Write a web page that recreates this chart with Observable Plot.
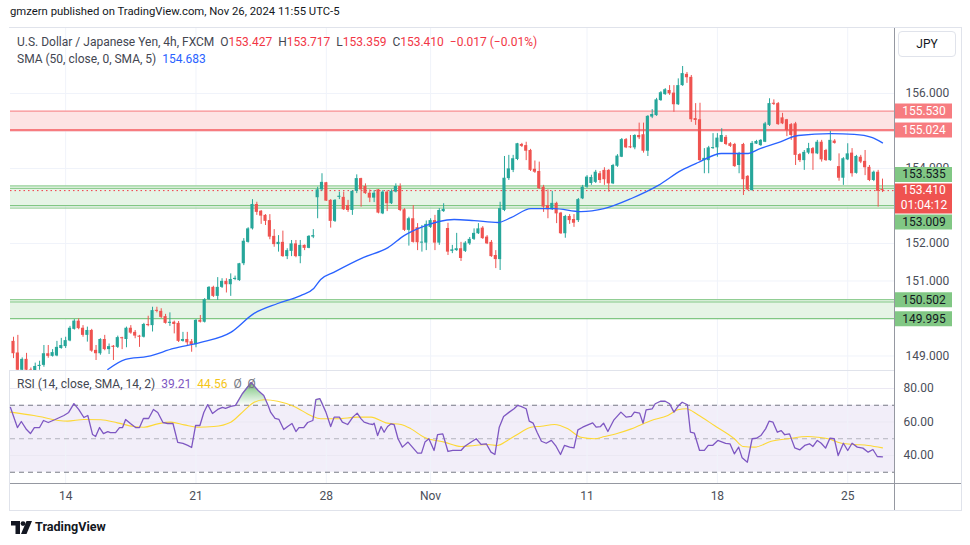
<!DOCTYPE html>
<html><head><meta charset="utf-8">
<script src="https://cdn.jsdelivr.net/npm/d3@7"></script>
<script src="https://cdn.jsdelivr.net/npm/@observablehq/plot@0.6"></script>
<style>
body{margin:0;background:#fff;font-family:Roboto,"Noto Sans",sans-serif;}
#root{position:relative;width:970px;height:545px;overflow:hidden;background:#fff;}
.abs{position:absolute;}
.leg{position:absolute;font-size:12px;color:#434651;white-space:pre;line-height:16px;}
</style></head><body><div id="root">
<div class="abs" style="left:10px;top:5px;font-size:11.3px;color:#131722;">gmzern published on TradingView.com, Nov 26, 2024 11:55 UTC-5</div>
<div class="abs" style="left:9px;top:27px;width:951px;height:482px;border:1px solid #e0e3eb;"></div>
<div id="main" class="abs" style="left:0;top:28px;"></div>
<div id="col" class="abs" style="left:894px;top:28px;"></div>
<div id="rsi" class="abs" style="left:0;top:370px;"></div>
<div class="abs" style="left:10px;top:370px;width:884px;height:1px;background:#e0e3eb;"></div>
<div class="abs" style="left:10px;top:483px;width:951px;height:1px;background:#9598a1;"></div>
<div class="abs" style="left:894px;top:28px;width:1px;height:482px;background:#9598a1;"></div>
<div class="abs" style="left:898px;top:31px;width:56px;height:24px;border:1px solid #e0e3eb;border-radius:4px;background:#fff;font-size:12px;color:#131722;text-align:center;line-height:24px;">JPY</div>
<div id="leg1" class="leg" style="left:17px;top:34px;"></div>
<div id="leg2" class="leg" style="left:17px;top:51px;"></div>
<div id="leg3" class="leg" style="left:17px;top:376px;"></div>
<div class="abs" style="left:11px;top:520px;"><svg width="22" height="14"><path d="M0 0h9v13h-4.5v-8.5h-4.5z" fill="#131722"/><circle cx="12" cy="2.6" r="2.4" fill="#131722"/><path d="M15.5 0h5.5l-5.5 13h-5.5z" fill="#131722"/></svg></div>
<div class="abs" style="left:35px;top:519px;font-size:12.6px;font-weight:bold;color:#131722;">TradingView</div>
</div>
<script>
// ---- price data (4h candles, index = bar number) ----
const opens = [149.39,149.08,148.62,148.91,148.62,148.60,148.72,148.75,149.06,148.99,149.00,149.20,149.25,149.40,149.71,149.93,149.74,149.55,149.68,149.15,
149.06,149.44,149.17,149.26,149.23,149.48,149.44,149.74,149.63,149.53,149.50,149.84,149.81,150.21,150.19,150.05,149.87,149.90,149.87,149.39,
149.44,149.38,149.30,149.95,149.90,150.50,150.83,150.59,150.83,150.99,150.90,151.04,151.01,151.46,152.03,152.39,153.04,152.86,152.75,152.61,
152.19,151.97,152.03,151.65,151.79,151.99,151.65,151.95,151.87,152.17,153.22,153.43,153.62,153.15,152.59,153.23,153.23,153.01,152.88,153.39,
153.73,153.52,153.34,153.21,153.43,152.79,153.37,153.06,153.37,153.52,152.90,152.35,152.66,152.42,152.01,152.01,152.43,152.61,152.01,152.85,
152.40,151.79,151.81,151.86,151.79,151.99,152.11,152.26,152.41,152.17,152.03,151.68,151.57,152.88,153.73,153.95,154.24,154.64,154.61,154.48,
153.98,153.92,153.50,153.01,152.90,153.07,152.81,152.26,152.72,152.64,152.61,153.19,153.50,153.60,153.63,153.86,153.95,153.95,153.59,154.06,
154.30,154.77,154.58,154.55,154.88,154.90,154.46,155.37,155.41,155.81,155.97,156.08,156.01,155.70,156.21,156.51,156.43,155.33,155.30,154.21,
154.21,154.53,154.55,154.70,154.83,154.66,154.64,154.08,154.64,153.79,153.41,154.65,154.61,154.70,155.15,155.74,155.73,155.35,155.30,155.17,
155.19,154.37,154.21,154.41,154.53,154.39,154.70,154.48,154.21,154.73,154.05,153.74,154.23,154.41,153.87,154.30,154.19,154.03,153.68,153.90,
153.427];
const highs = [149.50,149.55,148.95,149.07,148.68,148.81,148.86,149.28,149.28,149.17,149.39,149.47,149.50,149.79,149.97,149.99,149.81,149.77,149.71,149.28,
149.46,149.55,149.32,149.28,149.53,149.50,149.77,149.81,149.68,149.55,149.87,150.06,150.30,150.30,150.26,150.11,150.15,149.93,149.92,149.63,
149.63,149.44,149.97,150.08,150.53,150.85,150.86,151.09,151.06,151.06,151.19,151.13,151.47,152.13,152.42,153.17,153.10,152.88,152.77,152.77,
152.37,152.21,152.33,151.86,152.08,152.08,152.08,151.96,152.21,152.37,153.50,153.86,153.63,153.17,153.17,153.37,153.37,153.15,153.41,153.83,
153.74,153.59,153.43,153.41,153.44,153.41,153.41,153.43,153.59,153.59,152.93,152.70,153.01,152.53,152.48,152.60,152.66,152.75,152.93,153.06,
152.54,151.95,152.27,152.03,152.05,152.16,152.39,152.53,152.45,152.21,152.08,151.81,153.10,154.32,154.35,154.35,154.67,154.67,154.70,154.51,
154.20,154.17,153.55,153.43,153.39,153.10,152.83,152.75,152.77,152.77,153.20,153.55,153.81,153.82,153.95,153.92,154.02,153.97,154.11,154.37,
154.80,154.80,154.88,154.90,155.21,155.21,155.41,155.57,155.87,156.05,156.13,156.21,156.21,156.39,156.72,156.56,156.48,155.73,155.74,154.53,
154.59,154.93,154.93,155.06,154.88,154.69,154.67,154.43,154.67,153.81,154.72,154.75,154.77,155.23,155.86,155.83,155.76,155.47,155.31,155.20,
155.23,154.40,154.48,154.67,154.56,154.75,154.75,154.51,154.99,154.77,154.39,154.29,154.66,154.53,154.35,154.35,154.48,154.08,153.93,153.95,
153.717];
const lows = [148.93,148.55,148.55,148.55,148.53,148.55,148.62,148.70,148.94,148.97,148.98,149.18,149.20,149.38,149.69,149.70,149.50,149.37,149.10,148.88,
149.02,149.14,149.04,148.88,149.20,149.17,149.22,149.58,149.46,149.23,149.48,149.78,149.64,150.15,150.00,149.85,149.79,149.59,149.36,149.37,
149.26,149.10,149.22,149.88,149.88,150.48,150.56,150.48,150.80,150.68,150.59,151.01,150.99,151.41,152.01,152.36,152.75,152.51,152.48,152.10,
151.90,151.77,151.63,151.57,151.65,151.62,151.46,151.81,151.86,152.13,152.66,153.39,153.12,152.41,152.56,153.17,152.88,152.83,152.75,153.33,
152.97,153.31,153.09,153.09,152.79,152.77,152.85,153.04,153.35,152.85,152.32,151.93,152.01,151.81,151.77,151.81,152.40,151.81,151.95,152.83,
151.68,151.73,151.79,151.52,151.76,151.95,152.08,152.24,152.11,151.97,151.63,151.33,151.28,152.85,153.68,153.89,154.21,154.56,154.21,153.92,
153.87,153.44,152.83,152.66,152.88,152.53,152.24,152.14,152.51,152.43,152.56,153.17,153.47,153.55,153.60,153.60,153.55,153.37,153.57,154.03,
154.29,154.53,154.53,154.50,154.77,154.41,154.32,155.33,155.39,155.79,155.95,155.95,155.50,155.68,156.19,156.27,155.23,155.15,154.19,153.86,
153.86,154.51,154.30,154.69,154.61,154.56,154.03,153.86,153.28,153.41,153.40,154.64,154.59,154.69,155.12,155.68,155.15,155.17,154.85,154.75,
154.08,154.16,153.95,154.37,153.95,154.37,154.17,154.19,154.19,154.65,153.66,153.55,154.21,153.77,153.85,154.13,153.81,153.65,153.65,152.97,
153.359];
const closes = [149.06,148.62,148.91,148.62,148.60,148.72,148.75,149.06,148.99,149.09,149.23,149.28,149.41,149.74,149.93,149.73,149.55,149.68,149.13,149.06,
149.44,149.17,149.25,149.23,149.49,149.46,149.74,149.61,149.53,149.50,149.84,149.81,150.21,150.19,150.03,149.87,149.90,149.84,149.39,149.44,
149.35,149.30,149.95,149.90,150.50,150.83,150.59,150.83,150.99,150.90,151.04,151.07,151.46,152.06,152.39,153.04,152.83,152.73,152.59,152.17,
151.97,152.03,151.65,151.81,151.99,151.65,151.95,151.87,152.19,152.21,153.43,153.63,153.13,152.59,153.15,153.26,152.90,152.88,153.39,153.73,
153.43,153.33,153.21,153.34,152.81,153.37,153.06,153.39,153.52,152.88,152.35,152.66,152.03,152.02,152.03,152.51,152.61,152.01,152.88,152.91,
151.77,151.83,151.86,151.60,152.01,152.11,152.27,152.39,152.13,151.99,151.65,151.57,152.93,153.74,153.99,154.26,154.66,154.59,154.46,153.95,
153.90,153.46,152.97,152.90,153.07,152.79,152.26,152.72,152.61,152.54,153.17,153.50,153.77,153.76,153.90,153.68,153.70,153.59,154.08,154.33,
154.77,154.55,154.55,154.88,154.82,154.46,155.39,155.44,155.83,156.02,156.10,155.99,155.70,156.21,156.53,156.42,155.30,155.28,154.21,154.27,
154.55,154.55,154.81,154.88,154.64,154.59,154.05,154.39,153.70,153.43,154.67,154.72,154.75,155.19,155.73,155.71,155.17,155.19,155.01,154.88,
154.35,154.21,154.43,154.53,154.39,154.70,154.23,154.21,154.75,154.67,153.74,154.26,154.39,153.86,154.32,154.17,154.02,153.68,153.90,153.39,
153.410];

// SMA(50) read at bar positions
const smaBars = [21.7,25.8,30.9,36.9,43.1,50.0,55.3,60.8,66.1,69.1,70.7,73.7,80.6,86.2,89.9,93.8,101.4,106.0,111.5,114.5,119.1,124.4,130.6,135.9,142.2,148.4,153.7,157.6,162.9,169.1,171.4,176.0,180.6,188.2,193.5,197.5,200];
const smaVals = [148.64,148.91,148.99,149.20,149.36,149.63,150.13,150.40,150.61,150.80,151.04,151.23,151.63,151.89,152.21,152.43,152.64,152.61,152.56,152.69,152.93,152.93,152.85,152.93,153.20,153.55,153.95,154.16,154.40,154.40,154.51,154.69,154.88,154.93,154.91,154.83,154.683];

// RSI(14)
const rsiBars = [-0.7,0.9,1.8,3.0,3.9,4.8,6.0,6.9,8.0,9.6,11.6,12.7,13.9,15.0,16.2,17.1,18.2,18.9,19.8,20.7,21.7,22.3,23.5,24.4,25.1,25.8,26.9,28.1,29.0,29.9,31.1,32.2,33.2,34.4,35.5,36.7,37.8,39.0,40.1,41.0,41.9,42.9,43.8,44.7,45.8,47.0,48.1,48.8,50.0,51.1,52.7,54.7,56.3,57.6,58.6,59.2,60.2,61.1,62.2,63.1,64.1,65.0,65.7,66.8,67.7,68.9,69.6,70.5,71.9,73.0,73.8,75.0,75.7,76.9,78.1,79.1,80.0,80.7,81.9,82.7,83.0,83.8,84.6,85.3,86.1,86.9,87.6,88.5,89.5,90.8,91.8,93.0,93.9,94.7,95.6,96.8,97.6,98.8,100.0,101.1,102.3,103.0,103.8,104.9,106.5,107.6,108.8,109.9,110.8,111.8,112.8,114.1,115.2,116.0,116.8,118.0,118.7,119.6,120.5,121.5,122.6,123.8,124.9,125.9,126.8,128.0,129.0,129.9,131.0,132.2,133.3,134.1,135.1,135.8,136.8,138.2,139.8,141.0,142.2,142.9,144.1,144.9,145.6,147.0,147.7,148.9,150.0,151.0,152.0,153.1,153.9,155.1,155.8,156.7,157.9,159.0,159.9,160.9,162.1,163.9,164.9,165.9,166.9,167.7,168.9,170.0,171.0,172.0,173.1,173.9,174.8,175.8,176.7,177.5,178.6,179.8,181.0,182.1,183.2,184.0,185.0,185.9,186.9,187.9,188.9,189.8,191.0,192.0,193.0,194.2,195.5,196.7,197.8,198.8,200.0];
const rsiVals = [68.7,56.7,60.3,55.5,53.1,56.7,56.7,60.9,59.7,61.5,63.9,65.7,71,67.5,62.7,63.9,52.5,51.3,56.7,53.1,54.3,53.7,53.7,56.7,56.7,61.5,59.1,56.7,56.7,62.1,62.1,67.5,65.7,59.7,59.1,59.1,47.8,47.2,46,44.8,57.9,57.9,65.7,70.4,65.1,67.5,68.7,68.1,69.3,69.9,77,83.6,78.8,75.8,69.9,65.7,62.1,61.5,55.5,57.3,59.1,54.3,56.7,56.7,59.7,60.9,73.4,74,65.9,57.3,62.9,62.9,59.9,58.5,62.9,65.3,61.9,59.9,58.9,58.5,59.3,51.9,57.3,53.9,57.3,58.9,58.5,50,45,48,45,41.4,41.4,48,50,43,52.5,52.9,42.4,43,43,43,45.4,47.3,50,46.6,47,42,40.6,56.9,63.3,65.9,67.9,69.9,69.3,67.9,60.5,59.3,53.9,48.5,47.3,49,45.4,40.6,46,45,44.6,55.3,56.9,58.3,59.5,56.9,57.3,59.3,54.3,61.3,65.9,62.9,63.3,65.9,65.3,59.3,67.3,67.9,70.9,72.4,72.4,70.9,65.9,69.9,71.8,70.3,53.9,53.3,43,43,46,46,49,47.3,47,41,45,38.6,36,50,50.3,51.9,55.9,60.5,59.9,53.9,54.9,52.4,52.9,44.6,43.4,46,47,45.4,49,47.3,44.4,50.3,50,40,47.3,43,47.3,45,44.4,42,43.6,39.4,39.21];
// RSI-based MA(14)
const maBars = [-0.7,4.7,12.4,16.2,20.1,23.9,27.7,30.0,33.2,36.2,39.3,42.3,46.1,50.0,52.3,55.4,57.7,60.8,64.6,68.4,70.7,74.5,79.2,82.3,85.7,89.2,91.5,94.5,99.2,103.0,106.1,109.1,111.4,113.7,116.8,119.1,121.5,124.5,127.6,130.6,133.7,136.0,139.1,142.2,146.8,150.6,152.9,154.8,157.5,161.3,165.9,167.9,170.6,174.4,178.3,182.8,185.1,187.5,190.6,193.6,196.7,200.0];
const maVals = [65.9,63.9,60.5,61.5,61.3,59.5,57.3,56.9,58.9,59.9,58.3,56.9,57.3,59.9,64.9,71.8,73.3,72.4,69.3,63.9,61.9,61.9,62.9,62.9,59.5,58.5,55.9,50.9,48,45.4,46,46.6,46,49,53.9,56.9,57.5,58.5,55.9,50.9,50,51.3,53.3,55.9,60.9,63.9,67.3,67.9,64.3,57.9,50,45.4,45,48.5,50,51.3,50.9,50,47.3,46.6,46,44.56];

// zones and labels
const zoneLo = [155.024, 153.009, 149.995];
const zoneHi = [155.530, 153.535, 150.502];
const zoneKind = ["res", "sup", "sup"];
const extraZoneLines = [153.47, 152.945, 150.44];
const lastPrice = 153.410;
const countdown = "01:04:12";
const gridPrices = [149,150,151,152,153,154,155,156];
const priceTickLabels = [149,151,152,154,156];
const rsiTicks = [40,60,80];
const rsiBands = [30,50,70];
const dateTickBars = [12,42,72,96,132,162,192];
const dateTickLabels = ["14","21","28","Nov","11","18","25"];

// ---- build ----
const UP = "#26a69a", DOWN = "#ef5350";
const GREEN_LINE = "#81c784";
const xDomain = [-0.691, 202.765];
const yDomain = [148.613, 157.733];
const rsiDomain = [23.28, 90.75];
const candles = opens.map((o, i) => {
  const c = closes[i];
  let top = Math.max(o, c), bot = Math.min(o, c);
  if (top - bot < 0.027) top = bot + 0.027;
  return {i, o, h: highs[i], l: lows[i], c, top, bot, up: c >= o};
});
const ups = candles.filter(d => d.up), downs = candles.filter(d => !d.up);
const sma = smaBars.map((b, k) => ({b, v: smaVals[k]}));
const rsi = rsiBars.map((b, k) => ({b, v: rsiVals[k]}));
const rsiMa = maBars.map((b, k) => ({b, v: maVals[k]}));
const zones = zoneLo.map((lo, k) => ({lo, hi: zoneHi[k], kind: zoneKind[k]}));
const zoneLines = [
  ...zones.flatMap(z => [{v: z.hi, kind: z.kind, w: 1}, {v: z.lo, kind: z.kind, w: z.kind === "res" ? 2.2 : 1.2}]),
  ...extraZoneLines.map(v => ({v, kind: "sup", w: 1}))
];
const fmt3 = d3.format(".3f");
const font = "Roboto, 'Noto Sans', sans-serif";

const main = Plot.plot({
  width: 960, height: 342,
  marginLeft: 10, marginRight: 66, marginTop: 0, marginBottom: 0,
  style: {fontFamily: font, fontSize: "12px", background: "white", overflow: "visible"},
  x: {domain: xDomain, axis: null},
  y: {domain: yDomain, axis: null},
  marks: [
    Plot.ruleY(gridPrices, {stroke: "#f0f3fa"}),
    Plot.ruleX(dateTickBars, {stroke: "#f0f3fa"}),
    Plot.rect(zones, {y1: "lo", y2: "hi", fill: d => d.kind === "res" ? "#fde3e4" : "#e6f4e6"}),
    Plot.ruleY(zoneLines.filter(d => d.kind === "sup"), {y: "v", stroke: GREEN_LINE, strokeWidth: d => d.w}),
    Plot.ruleY(zoneLines.filter(d => d.kind === "res"), {y: "v", stroke: "#f77c80", strokeWidth: d => d.w}),
    Plot.ruleY([lastPrice], {stroke: "#f23645", strokeDasharray: "1.5,3", strokeWidth: 1}),
    Plot.ruleX(ups, {x: "i", y1: "l", y2: "h", stroke: UP, strokeWidth: 1, clip: true}),
    Plot.ruleX(downs, {x: "i", y1: "l", y2: "h", stroke: DOWN, strokeWidth: 1, clip: true}),
    Plot.rect(ups, {x1: d => d.i - 0.36, x2: d => d.i + 0.36, y1: "bot", y2: "top", fill: UP, clip: true}),
    Plot.rect(downs, {x1: d => d.i - 0.36, x2: d => d.i + 0.36, y1: "bot", y2: "top", fill: DOWN, clip: true}),
    Plot.line(sma, {x: "b", y: "v", stroke: "#2962ff", strokeWidth: 1.3, curve: "monotone-x", clip: true}),
    Plot.axisY({anchor: "right", ticks: priceTickLabels, tickSize: 0, tickPadding: 11, tickFormat: fmt3, fill: "#4a4e59", fontSize: 12, label: null})
  ]
});
document.getElementById("main").appendChild(main);

// price-scale badges (overlay column)
const badges = [
  {v: zoneHi[0], text: fmt3(zoneHi[0]), bg: "#f77c80", fg: "#fff", dy: 0, h: 15},
  {v: zoneLo[0], text: fmt3(zoneLo[0]), bg: "#f77c80", fg: "#fff", dy: 0, h: 15},
  {v: zoneHi[1], text: fmt3(zoneHi[1]), bg: "#81c784", fg: "#131722", dy: -11.5, h: 15},
  {v: lastPrice, text: fmt3(lastPrice), bg: "#ef5350", fg: "#fff", dy: 0, h: 30, sub: countdown},
  {v: zoneLo[1], text: fmt3(zoneLo[1]), bg: "#81c784", fg: "#131722", dy: 16.3, h: 15},
  {v: zoneHi[2], text: fmt3(zoneHi[2]), bg: "#81c784", fg: "#131722", dy: 0, h: 15},
  {v: zoneLo[2], text: fmt3(zoneLo[2]), bg: "#81c784", fg: "#131722", dy: 0, h: 15}
];
const colMarks = [];
for (const b of badges) {
  const boxDy = b.sub ? b.dy + 8 : b.dy;
  colMarks.push(Plot.ruleY([b.v], {y: d => d, stroke: b.bg, strokeWidth: b.h, insetLeft: 1, insetRight: 8, dy: boxDy}));
  colMarks.push(Plot.text([b.v], {y: d => d, text: () => b.text, fill: b.fg, frameAnchor: "middle", dx: -3.5, dy: b.dy, fontSize: 12}));
  if (b.sub) colMarks.push(Plot.text([b.v], {y: d => d, text: () => b.sub, fill: b.fg, frameAnchor: "middle", dx: -3.5, dy: b.dy + 15, fontSize: 12}));
}
const col = Plot.plot({
  width: 66, height: 342, margin: 0,
  style: {fontFamily: font, fontSize: "12px", background: "transparent", overflow: "visible"},
  y: {domain: yDomain, axis: null},
  marks: colMarks
});
document.getElementById("col").appendChild(col);

// gradient for the overbought fill (defs only)
const obGradient = (index, scales) => {
  const ns = "http://www.w3.org/2000/svg";
  const defs = document.createElementNS(ns, "defs");
  const g = document.createElementNS(ns, "linearGradient");
  g.setAttribute("id", "obGrad");
  g.setAttribute("gradientUnits", "userSpaceOnUse");
  g.setAttribute("x1", "0"); g.setAttribute("x2", "0");
  g.setAttribute("y1", String(scales.y(rsiBands[2])));
  g.setAttribute("y2", String(scales.y(83)));
  for (const [off, op] of [["0", "0.02"], ["1", "0.75"]]) {
    const s = document.createElementNS(ns, "stop");
    s.setAttribute("offset", off);
    s.setAttribute("stop-color", "#4caf50");
    s.setAttribute("stop-opacity", op);
    g.appendChild(s);
  }
  defs.appendChild(g);
  return defs;
};

// RSI pane + time axis
const rsiPlot = Plot.plot({
  width: 960, height: 140,
  marginLeft: 10, marginRight: 66, marginTop: 0, marginBottom: 27,
  style: {fontFamily: font, fontSize: "12px", background: "transparent", overflow: "visible"},
  x: {domain: xDomain, axis: null},
  y: {domain: rsiDomain, axis: null},
  marks: [
    obGradient,
    Plot.rect([{lo: rsiBands[0], hi: rsiBands[2]}], {y1: "lo", y2: "hi", fill: "#7e57c2", fillOpacity: 0.1}),
    Plot.ruleY(rsiTicks, {stroke: "#ebe8f3"}),
    Plot.ruleX(dateTickBars, {stroke: "#f0f3fa"}),
    Plot.ruleY([rsiBands[0], rsiBands[2]], {stroke: "#787b86", strokeDasharray: "5,4"}),
    Plot.ruleY([rsiBands[1]], {stroke: "#787b86", strokeOpacity: 0.5, strokeDasharray: "5,4"}),
    Plot.areaY(rsi, {x: "b", y1: rsiBands[2], y2: d => Math.max(d.v, rsiBands[2]), fill: "url(#obGrad)"}),
    Plot.line(rsiMa, {x: "b", y: "v", stroke: "#fdd835", strokeWidth: 1.1, curve: "monotone-x"}),
    Plot.line(rsi, {x: "b", y: "v", stroke: "#7e57c2", strokeWidth: 1.3}),
    Plot.axisY({anchor: "right", ticks: rsiTicks, tickSize: 0, tickPadding: 9, tickFormat: d3.format(".2f"), fill: "#4a4e59", fontSize: 12, label: null}),
    Plot.axisX({anchor: "bottom", ticks: dateTickBars, tickSize: 0, tickPadding: 8, tickFormat: (d) => dateTickLabels[dateTickBars.indexOf(d)], fill: "#4a4e59", fontSize: 12, label: null})
  ]
});
document.getElementById("rsi").appendChild(rsiPlot);

// legends
const c = closes[closes.length - 1], o = opens[opens.length - 1];
const span = (t, col) => `<span style="color:${col}">${t}</span>`;
const RED = "#f23645";
document.getElementById("leg1").innerHTML =
  span("U.S. Dollar / Japanese Yen, 4h, FXCM  ", "#434651") +
  span("O", "#434651") + span(fmt3(o), RED) + "  " +
  span("H", "#434651") + span(fmt3(highs[highs.length-1]), RED) + "  " +
  span("L", "#434651") + span(fmt3(lows[lows.length-1]), RED) + "  " +
  span("C", "#434651") + span(fmt3(c), RED) + "  " +
  span("\u22120.017 (\u22120.01%)", RED);
document.getElementById("leg2").innerHTML =
  span("SMA (50, close, 0, SMA, 5)  ", "#434651") + span(fmt3(smaVals[smaVals.length-1]), "#2962ff");
document.getElementById("leg3").innerHTML =
  span("RSI (14, close, SMA, 14, 2)  ", "#434651") + span(rsiVals[rsiVals.length-1].toFixed(2), "#7e57c2") + "  " +
  span(maVals[maVals.length-1].toFixed(2), "#f5c518") + "  " + span("\u00d8  \u00d8", "#787b86");
</script>
</body></html>
